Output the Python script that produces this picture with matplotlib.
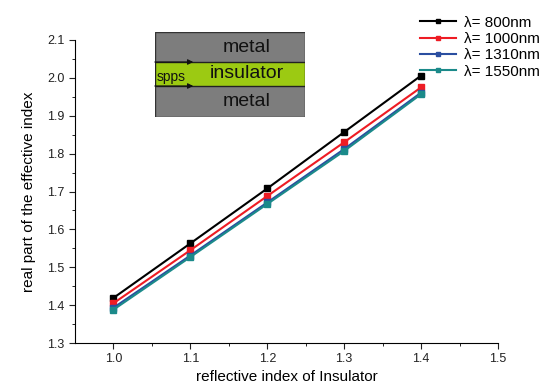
import matplotlib
matplotlib.use("Agg")
import matplotlib.pyplot as plt
from matplotlib.patches import Rectangle

plt.rcParams["font.family"] = ["Liberation Sans", "DejaVu Sans"]

# --- Data ---
n_insulator = [1.0, 1.1, 1.2, 1.3, 1.4]
neff_800 = [1.419, 1.563, 1.708, 1.857, 2.006]
neff_1000 = [1.405, 1.545, 1.688, 1.830, 1.975]
neff_1310 = [1.393, 1.531, 1.671, 1.812, 1.961]
neff_1550 = [1.388, 1.527, 1.667, 1.807, 1.957]
labels = ["λ= 800nm", "λ= 1000nm", "λ= 1310nm", "λ= 1550nm"]
colors = ["#000000", "#ee1c24", "#2a4ea0", "#1b8a8a"]

fig = plt.figure(figsize=(5.48, 3.87), dpi=100)
ax = fig.add_axes([75 / 548, 44 / 387, 423 / 548, 303 / 387])

for ys, lab, c in zip([neff_800, neff_1000, neff_1310, neff_1550], labels, colors):
    ax.plot(n_insulator, ys, "s-", color=c, lw=1.5, ms=4, label=lab)

ax.set_xlim(0.95, 1.5)
ax.set_ylim(1.3, 2.1)
ax.set_xticks([1.0, 1.1, 1.2, 1.3, 1.4, 1.5])
ax.set_xticks([1.05, 1.15, 1.25, 1.35, 1.45], minor=True)
ax.set_yticks([1.3, 1.4, 1.5, 1.6, 1.7, 1.8, 1.9, 2.0, 2.1])
ax.set_yticks([1.35, 1.45, 1.55, 1.65, 1.75, 1.85, 1.95, 2.05], minor=True)
ax.spines["top"].set_visible(False)
ax.spines["right"].set_visible(False)
ax.tick_params(which="major", direction="out", length=4, labelsize=9, colors="#222222")
ax.tick_params(which="minor", direction="out", length=2.5)
ax.set_xlabel("reflective index of Insulator", fontsize=11, labelpad=3)
ax.set_ylabel("real part of the effective index", fontsize=11, labelpad=8)

ax.legend(loc="upper right", bbox_to_anchor=(546 / 423 - 75 / 423, 1.1), frameon=False,
          fontsize=11, handlelength=2.4, handletextpad=0.5, labelspacing=0.15, borderaxespad=0,
          markerscale=0.85)

# inset sketch of metal/insulator/metal waveguide
ins = fig.add_axes([155 / 548, (387 - 117) / 387, 150 / 548, 85 / 387])
ins.set_xlim(0, 150)
ins.set_ylim(0, 85)
ins.axis("off")
ins.add_patch(Rectangle((0, 0), 150, 85, facecolor="#7d7d7d", edgecolor="#333333", lw=1))
ins.add_patch(Rectangle((0, 31), 150, 24, facecolor="#9cca12", edgecolor="#222222", lw=1))
ins.text(92, 70, "metal", ha="center", va="center", fontsize=14, color="#111111")
ins.text(92, 43, "insulator", ha="center", va="center", fontsize=14, color="#111111")
ins.text(92, 15, "metal", ha="center", va="center", fontsize=14, color="#111111")
ins.text(2, 40, "spps", ha="left", va="center", fontsize=10, color="#111111")
for y in (55, 31):
    ins.annotate("", xy=(41, y), xytext=(-3, y),
                 arrowprops=dict(arrowstyle="-|>", color="#111111", lw=0.8, mutation_scale=8))

fig.savefig("out.png", dpi=100)
